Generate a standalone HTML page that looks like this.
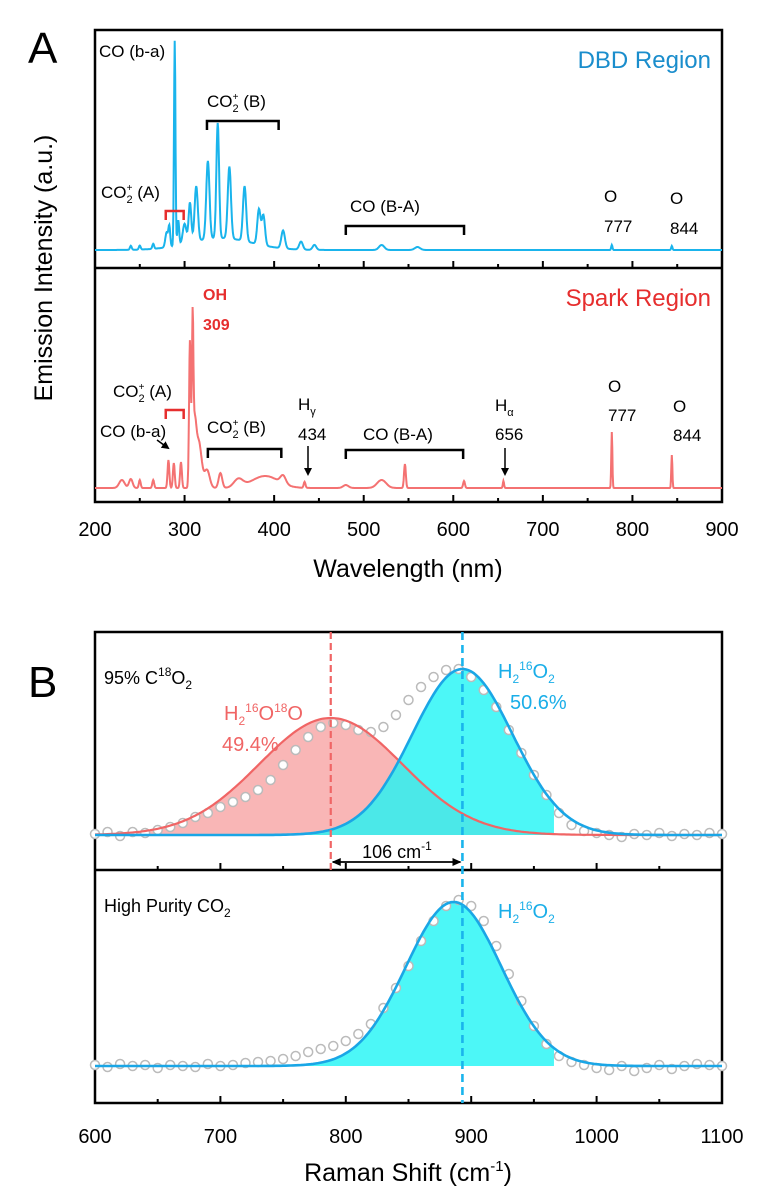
<!DOCTYPE html>
<html><head><meta charset="utf-8"><style>
body{margin:0;background:#fff}
svg{display:block;font-family:"Liberation Sans",Arial,sans-serif}
</style></head><body>
<svg id="fig" width="760" height="1190" viewBox="0 0 760 1190">
<g id="A"></g>
<g id="B"></g>
</svg>
<script>
// ---------- Panel A data ----------
const wlRange=[200,900];
const dbdCenters=[240,250,265,280,283,289,293,300,306,313,326,337,350,367,383,388,410,430,445,520,560,777,844,340];
const dbdHeights=[4,4,5,15,20,205,25,20,40,55,78,115,72,55,35,30,18,8,5,5,3,5,4,12];
const dbdWidths=[1,1,1,1.5,1,0.8,1,2,1.5,1.8,1.8,1.5,1.8,1.8,1.8,1.8,2,2,2,3,3,0.7,0.7,35];
const sparkCenters=[230,240,250,265,282,288,296,306,309,311,316,325,340,360,390,410,434,480,520,546,612,656,777,844];
const sparkHeights=[8,9,8,8,28,25,26,145,140,60,45,18,15,8,12,8,6,3,8,24,7,7,56,33];
const sparkWidths=[3,2,1,1,1,1,1,1,0.8,2,3,3,2,5,15,3,1,3,5,1,1,0.7,0.6,0.6];
const xTicksA=[200,300,400,500,600,700,800,900];
// ---------- Panel B data ----------
const shiftsB=[600,610,620,630,640,650,660,670,680,690,700,710,720,730,740,750,760,770,780,790,800,810,820,830,840,850,860,870,880,890,900,910,920,930,940,950,960,970,980,990,1000,1010,1020,1030,1040,1050,1060,1070,1080,1090,1100];
const obsTop=[1,3,-1,3,2,5,8,12,18,22,28,33,38,45,55,70,85,98,108,112,110,105,103,108,120,135,148,158,165,166,158,145,128,105,82,60,40,22,10,4,2,0,-2,1,0,2,-1,1,0,2,1];
const obsBottom=[1,-1,2,0,1,-2,1,0,-1,2,0,1,3,4,5,7,10,14,17,20,25,32,42,58,78,100,125,145,160,166,160,145,120,92,65,40,22,10,4,1,-2,-4,0,-5,-2,1,-3,0,2,1,0];
const fitTop={red:[788,117,57],blue:[893,166,40]};
const fitBottom={blue:[886,164,38]};
const xTicksB=[600,700,800,900,1000,1100];

const NS="http://www.w3.org/2000/svg";
function el(tag,attrs,parent,text){const e=document.createElementNS(NS,tag);for(const k in attrs)e.setAttribute(k,attrs[k]);if(text!==undefined)e.textContent=text;parent.appendChild(e);return e;}
const A=document.getElementById('A'),B=document.getElementById('B');
const L=95,R=722;
const xA=w=>L+(w-wlRange[0])/(wlRange[1]-wlRange[0])*(R-L);
const xB=s=>L+(s-600)/500*(R-L);

function spectrum(c,h,wd,base,g,color,name){
  let d="";
  for(let w=200;w<=900;w+=0.5){let v=0;for(let i=0;i<c.length;i++){v+=h[i]*Math.exp(-((w-c[i])**2)/(2*wd[i]*wd[i]));}
    d+=(d?"L":"M")+xA(w).toFixed(1)+","+(base-v).toFixed(1);}
  const p=el('path',{d:d,fill:'none',stroke:color,'stroke-width':2},g);
  
  
}
const fa=el('rect',{x:L,y:30,width:R-L,height:472,fill:'none',stroke:'#000','stroke-width':2.5},A);

el('line',{x1:L,y1:268,x2:R,y2:268,stroke:'#000','stroke-width':2.5},A);
function ticksA(yb){for(let w=200;w<=900;w+=50){const maj=w%100===0;el('line',{x1:xA(w),x2:xA(w),y1:yb,y2:yb-(maj?7:4),stroke:'#000','stroke-width':2},A);}}
ticksA(268);ticksA(502);
spectrum(dbdCenters,dbdHeights,dbdWidths,250,A,'#1ab4ec','dbd-spectrum');
spectrum(sparkCenters,sparkHeights,sparkWidths,488,A,'#f47272','spark-spectrum');
xTicksA.forEach(t=>{const e=el('text',{x:xA(t),y:536,'font-size':20,'text-anchor':'middle'},A,t);});
let t=el('text',{x:408,y:577,'font-size':25,'text-anchor':'middle'},A,'Wavelength (nm)');
t=el('text',{x:0,y:0,'font-size':25,'text-anchor':'middle',transform:'translate(52,268) rotate(-90)'},A,'Emission Intensity (a.u.)');
t=el('text',{x:28,y:63,'font-size':44},A,'A');
t=el('text',{x:711,y:68,'font-size':24,'text-anchor':'end',fill:'#1a8dcc'},A,'DBD Region');
t=el('text',{x:711,y:306,'font-size':24,'text-anchor':'end',fill:'#e62e2e'},A,'Spark Region');
function lbl(x,y,txt,sz,col,w,anchor){const e=el('text',{x:x,y:y,'font-size':sz||17,fill:col||'#000','font-weight':w||'normal','text-anchor':anchor||'start'},A);e.innerHTML=txt;return e;}
function bracket(w1,w2,y,col,name){const p=el('path',{d:`M${xA(w1)},${y+9}V${y}H${xA(w2)}V${y+9}`,fill:'none',stroke:col||'#000','stroke-width':2.5},A);}
const co2p='CO<tspan font-size="11" baseline-shift="-5">2</tspan><tspan font-size="10" dx="-6" baseline-shift="7">+</tspan>';
lbl(99,57,'CO (b-a)');
lbl(207,107,co2p+' (B)');
bracket(325,405,121,'#000','bracket-co2b-dbd');
lbl(101,198,co2p+' (A)');
bracket(279,299,211,'#e62e2e','bracket-co2a-dbd');
lbl(350,212,'CO (B-A)');
bracket(480,612,226,'#000','bracket-coba-dbd');
lbl(604,202,'O');lbl(604,232,'777');lbl(670,204,'O');lbl(670,234,'844');
lbl(203,300,'OH',16,'#e62e2e','bold');lbl(203,330,'309',16,'#e62e2e','bold');
lbl(113,397,co2p+' (A)');
bracket(279,299,410,'#e62e2e','bracket-co2a-spark');
lbl(100,437,'CO (b-a)');
lbl(207,433,co2p+' (B)');
bracket(326,408,449,'#000','bracket-co2b-spark');
lbl(298,410,'H<tspan font-size="11" baseline-shift="-5">γ</tspan>');lbl(298,440,'434');
lbl(363,440,'CO (B-A)');
bracket(480,611,450,'#000','bracket-coba-spark');
lbl(495,411,'H<tspan font-size="11" baseline-shift="-5">α</tspan>');lbl(495,440,'656');
lbl(608,392,'O');lbl(608,421,'777');lbl(673,412,'O');lbl(673,441,'844');
const defs=el('defs',{},document.getElementById('fig'));
const mk=el('marker',{id:'arr',markerWidth:8,markerHeight:8,refX:6,refY:4,orient:'auto',markerUnits:'userSpaceOnUse'},defs);
el('path',{d:'M0,0L8,4L0,8z',fill:'#000'},mk);
function arrow(x1,y1,x2,y2,name){const a=el('line',{x1,y1,x2,y2,stroke:'#000','stroke-width':1.5,'marker-end':'url(#arr)'},A);}
arrow(157,440,168,448,'arrow-co-ba');arrow(308,446,308,474,'arrow-h-gamma');arrow(505,448,505,474,'arrow-h-alpha');

// ---------- Panel B ----------
const topB=632,midB=870,botB=1103,baseTop=835,baseBot=1066;
const fb=el('rect',{x:L,y:topB,width:R-L,height:botB-topB,fill:'none',stroke:'#000','stroke-width':2.5},B);

el('line',{x1:L,y1:midB,x2:R,y2:midB,stroke:'#000','stroke-width':2.5},B);
function ticksB(yb){for(let s=600;s<=1100;s+=50){const maj=s%100===0;el('line',{x1:xB(s),x2:xB(s),y1:yb,y2:yb-(maj?7:4),stroke:'#000','stroke-width':2},B);}}
ticksB(midB);ticksB(botB);
const gauss=(s,p)=>p[1]*Math.exp(-((s-p[0])**2)/(2*p[2]*p[2]));
function curvePath(p,base,s0,s1){let d="";for(let s=s0;s<=s1;s+=2){d+=(d?"L":"M")+xB(s).toFixed(1)+","+(base-gauss(s,p)).toFixed(1);}return d;}
function fillArea(p,base,s0,s1,col,op,name){const d=curvePath(p,base,s0,s1)+`L${xB(s1)},${base}L${xB(s0)},${base}Z`;const f=el('path',{d:d,fill:col,'fill-opacity':op},B);}
function circles(obs,base,name){shiftsB.forEach((s,i)=>{const c=el('circle',{cx:xB(s),cy:base-obs[i],r:4.5,fill:'#fff',stroke:'#bbb','stroke-width':1.5},B);});}
fillArea(fitTop.red,baseTop,600,1100,'#f47a7a',0.55,'red-fit-fill');
fillArea(fitTop.blue,baseTop,760,966,'#1ff5f5',0.8,'blue-fit-fill');
circles(obsTop,baseTop,'data-point-top');
let c=el('path',{d:curvePath(fitTop.red,baseTop,600,1100),fill:'none',stroke:'#f06565','stroke-width':2.2},B);
c=el('path',{d:curvePath(fitTop.blue,baseTop,600,1100),fill:'none',stroke:'#1aa6e6','stroke-width':2.6},B);
fillArea(fitBottom.blue,baseBot,760,966,'#1ff5f5',0.8,'blue-fit-fill-bottom');
circles(obsBottom,baseBot,'data-point-bottom');
c=el('path',{d:curvePath(fitBottom.blue,baseBot,600,1100),fill:'none',stroke:'#1aa6e6','stroke-width':2.6},B);
c=el('line',{x1:xB(fitTop.red[0]),x2:xB(fitTop.red[0]),y1:topB,y2:midB,stroke:'#f06565','stroke-width':2.2,'stroke-dasharray':'7,4'},B);
c=el('line',{x1:xB(fitTop.blue[0]),x2:xB(fitTop.blue[0]),y1:topB,y2:botB,stroke:'#1ab4ec','stroke-width':2.6,'stroke-dasharray':'8,5'},B);
const mk2=el('marker',{id:'arr2',markerWidth:9,markerHeight:8,refX:8,refY:4,orient:'auto-start-reverse',markerUnits:'userSpaceOnUse'},defs);
el('path',{d:'M0,0L9,4L0,8z',fill:'#000'},mk2);
c=el('line',{x1:xB(fitTop.red[0])+2,x2:xB(fitTop.blue[0])-2,y1:862,y2:862,stroke:'#000','stroke-width':1.8,'marker-start':'url(#arr2)','marker-end':'url(#arr2)'},B);
function lb(x,y,txt,sz,col,anchor){const e=el('text',{x:x,y:y,'font-size':sz||18,fill:col||'#000','text-anchor':anchor||'start'},B);e.innerHTML=txt;return e;}
const sub=(s)=>`<tspan font-size="12" baseline-shift="-5">${s}</tspan>`;
const sup=(s)=>`<tspan font-size="12" baseline-shift="8">${s}</tspan>`;
lb(104,684,'95% C'+sup('18')+'O'+sub('2'));
lb(224,720,'H'+sub('2')+sup('16')+'O'+sup('18')+'O',20,'#f06565');
lb(222,751,'49.4%',20,'#f06565');
lb(498,678,'H'+sub('2')+sup('16')+'O'+sub('2'),20,'#1aaee8');
lb(510,709,'50.6%',20,'#1aaee8');
lb(397,858,'106 cm'+sup('-1'),18,'#000','middle');
lb(104,912,'High Purity CO'+sub('2'));
lb(498,918,'H'+sub('2')+sup('16')+'O'+sub('2'),20,'#1aaee8');
xTicksB.forEach(s=>{const e=el('text',{x:xB(s),y:1143,'font-size':20,'text-anchor':'middle'},B,s);});
t=lb(408,1181,'Raman Shift (cm<tspan font-size="15" baseline-shift="10">-1</tspan>)',25,'#000','middle');
t=el('text',{x:28,y:697,'font-size':44},B,'B');
</script>
</body></html>
